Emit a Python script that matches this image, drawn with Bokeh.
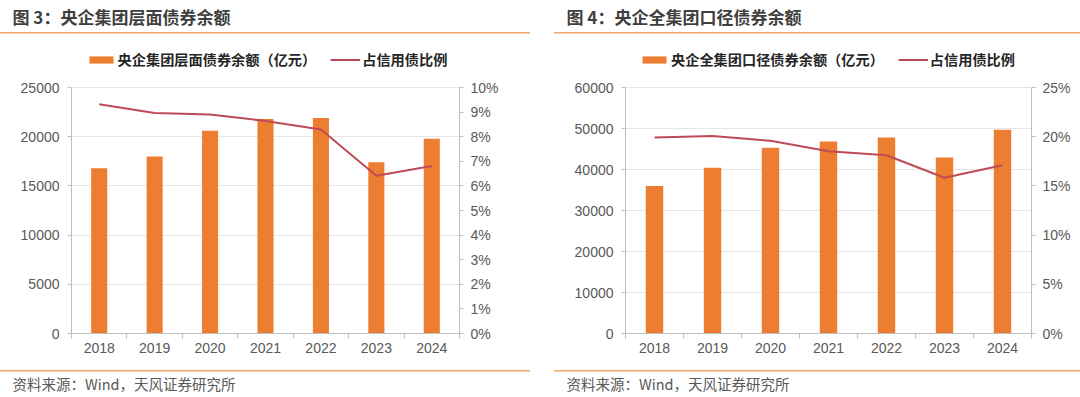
from bokeh.plotting import figure
from bokeh.models import (Range1d, LinearAxis, FixedTicker, NumeralTickFormatter,
                          Legend, LegendItem, Title)
from bokeh.layouts import row
from bokeh.embed import file_html
from bokeh.resources import INLINE

# ---------------- data ----------------
years = ["2018", "2019", "2020", "2021", "2022", "2023", "2024"]
group_bonds = [16800, 18000, 20600, 21800, 21900, 17400, 19800]          # 亿元
group_share = [0.0932, 0.0896, 0.0890, 0.0864, 0.0829, 0.0641, 0.0681]
all_bonds = [36000, 40400, 45300, 46800, 47800, 42900, 49700]            # 亿元
all_share = [0.1992, 0.2006, 0.1958, 0.1853, 0.1812, 0.1583, 0.1710]

titles = ["图 3：央企集团层面债券余额", "图 4：央企全集团口径债券余额"]
bar_labels = ["央企集团层面债券余额（亿元）", "央企全集团口径债券余额（亿元）"]
line_label = "占信用债比例"
source_text = "资料来源：Wind，天风证券研究所"

left_ticks_1 = [0, 5000, 10000, 15000, 20000, 25000]
pct_ticks_1 = [0, 0.01, 0.02, 0.03, 0.04, 0.05, 0.06, 0.07, 0.08, 0.09, 0.10]
left_ticks_2 = [0, 10000, 20000, 30000, 40000, 50000, 60000]
pct_ticks_2 = [0, 0.05, 0.10, 0.15, 0.20, 0.25]

# ---------------- style ----------------
CJK = "Noto Sans CJK SC"
NUM = "Liberation Sans"
BAR = "#ED7D31"
LINE = "#BE4B55"
RULE = "#F2A766"
AX = "#BFBFBF"
GRID = "#E6E6E6"
TXT = "#595959"

TOP_B = 45          # canvas top -> frame top
FRAME_H = 288       # frame height (legend sits in its upper part)
VALUE_H = 246       # height of the value area (axis 0 .. axis max)
BOT_B = 64


def panel(ML, FW, MR, bars, share, lticks, pticks, title, bar_label,
          text_off, rule_x0, rule_w, legend_x, bar_w):
    idx = list(range(len(years)))
    W = ML + FW + MR
    stretch = FRAME_H / VALUE_H
    p = figure(width=W, height=TOP_B + FRAME_H + BOT_B,
               frame_width=FW, frame_height=FRAME_H,
               x_range=Range1d(-0.5, len(years) - 0.5),
               y_range=Range1d(lticks[0], lticks[-1] * stretch),
               toolbar_location=None, output_backend="svg",
               min_border_left=ML, min_border_right=MR,
               min_border_top=TOP_B, min_border_bottom=BOT_B)
    p.outline_line_color = None
    p.border_fill_color = None
    p.background_fill_color = "white"
    # thin orange separator rules under the heading and above the source note
    p.styles = {
        "background-color": "white",
        "background-image": f"linear-gradient({RULE},{RULE}), linear-gradient({RULE},{RULE})",
        "background-size": f"{rule_w}px 1.5px, {rule_w}px 1.5px",
        "background-position": f"{rule_x0}px 32px, {rule_x0}px 370px",
        "background-repeat": "no-repeat",
    }
    p.extra_y_ranges = {"pct": Range1d(pticks[0], pticks[-1] * stretch)}

    vb = p.vbar(x=idx, top=bars, width=bar_w, fill_color=BAR, line_color=None)
    ln = p.line(x=idx, y=share, y_range_name="pct", line_color=LINE, line_width=2)

    p.xgrid.grid_line_color = None
    p.ygrid.grid_line_color = GRID

    xa = p.xaxis[0]
    xa.ticker = FixedTicker(ticks=idx, minor_ticks=[i - 0.5 for i in range(len(years) + 1)])
    xa.major_label_overrides = {i: y for i, y in enumerate(years)}
    xa.major_tick_line_color = None
    xa.major_tick_out = 0
    xa.major_tick_in = 0
    xa.minor_tick_line_color = AX
    xa.minor_tick_out = 5
    xa.minor_tick_in = 0
    xa.major_label_standoff = 4

    ya = p.yaxis[0]
    ya.ticker = FixedTicker(ticks=lticks)
    ya.bounds = (lticks[0], lticks[-1])
    ya.major_label_standoff = 8

    ra = LinearAxis(y_range_name="pct", ticker=FixedTicker(ticks=pticks),
                    formatter=NumeralTickFormatter(format="0%"),
                    bounds=(pticks[0], pticks[-1]))
    ra.major_label_standoff = 7
    p.add_layout(ra, "right")

    for a in [xa, ya, ra]:
        a.axis_line_color = AX
        a.major_label_text_font = NUM
        a.major_label_text_font_size = "14px"
        a.major_label_text_color = TXT
    for a in [ya, ra]:
        a.major_tick_line_color = AX
        a.major_tick_out = 4
        a.major_tick_in = 0
        a.minor_tick_line_color = None

    # legend in the upper (empty) part of the frame, above the value area
    leg = Legend(items=[LegendItem(label=bar_label, renderers=[vb]),
                        LegendItem(label=line_label, renderers=[ln])],
                 location=(legend_x, FRAME_H - 24), orientation="horizontal",
                 glyph_width=30, glyph_height=9, label_height=16,
                 label_standoff=2, spacing=14, padding=0, margin=0,
                 border_line_color=None, background_fill_alpha=0,
                 label_text_font=CJK, label_text_font_size="14.2px",
                 label_text_font_style="bold", label_text_color="#262626")
    p.add_layout(leg)

    # chart heading (second, empty line lifts it clear of the rule)
    p.add_layout(Title(text=title + "\n", align="left", offset=text_off, standoff=0,
                       vertical_align="bottom", text_font=CJK,
                       text_font_size="17px", text_font_style="bold",
                       text_line_height=0.65, text_color="#3F3F3F"), "above")

    # source note under the category axis (first line left blank as spacing)
    p.add_layout(Title(text="\n" + source_text, align="left", offset=text_off,
                       standoff=0, vertical_align="top", text_font=CJK,
                       text_font_size="14.5px", text_font_style="normal",
                       text_line_height=0.85, text_color=TXT), "below")
    return p


left = panel(71, 388, 81, group_bonds, group_share, left_ticks_1, pct_ticks_1,
             titles[0], bar_labels[0], -59, 0, 530, 14.6, 0.29)
right = panel(85, 406, 49, all_bonds, all_share, left_ticks_2, pct_ticks_2,
              titles[1], bar_labels[1], -59, 14, 526, 14, 0.30)

layout = row(left, right, spacing=0)

with open("out.html", "w") as fh:
    fh.write(file_html(layout, INLINE))
